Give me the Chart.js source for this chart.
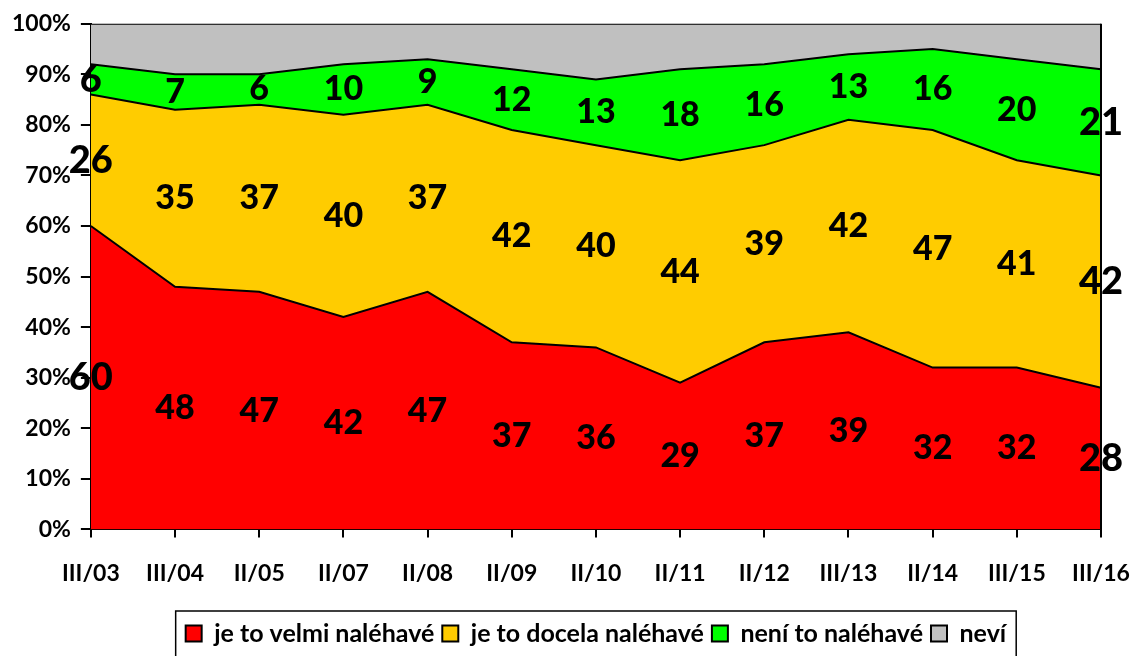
<!DOCTYPE html>
<html>
<head>
<meta charset="utf-8">
<script src="https://cdn.jsdelivr.net/npm/chart.js@4/dist/chart.umd.min.js"></script>
<style>
html,body{margin:0;padding:0;background:#fff;}
#wrap{width:1134px;height:656px;position:relative;}
</style>
</head>
<body>
<div id="wrap"><canvas id="c" width="1134" height="656"></canvas></div>
<script>
const categories = ["III/03","III/04","II/05","II/07","II/08","II/09","II/10","II/11","II/12","III/13","II/14","III/15","III/16"];
const velmi  = [60,48,47,42,47,37,36,29,37,39,32,32,28];
const docela = [26,35,37,40,37,42,40,44,39,42,47,41,42];
const neni   = [6,7,6,10,9,12,13,18,16,13,16,20,21];
const nevi   = [8,10,10,8,7,9,11,9,8,6,5,7,9];
const seriesNames = ["je to velmi naléhavé","je to docela naléhavé","není to naléhavé","neví"];
const yTicks = [0,10,20,30,40,50,60,70,80,90,100];

const FONT = "Lato, 'Liberation Sans', sans-serif";

const labelPlugin = {
  id: 'segLabels',
  afterDatasetsDraw(chart) {
    const ctx = chart.ctx;
    const xs = chart.scales.x, ys = chart.scales.y;
    const series = [velmi, docela, neni];
    ctx.save();
    ctx.fillStyle = '#000';
    ctx.textAlign = 'center';
    ctx.textBaseline = 'middle';
    for (let i = 0; i < categories.length; i++) {
      let cum = 0;
      for (let s = 0; s < series.length; s++) {
        const v = series[s][i];
        const edge = (i === 0 || i === categories.length - 1);
        ctx.font = '900 ' + (edge ? 38 : 34) + 'px ' + FONT;
        const x = xs.getPixelForValue(i);
        const y = ys.getPixelForValue(cum + v / 2);
        ctx.fillText(String(v), x, y);
        cum += v;
      }
    }
    ctx.restore();
  }
};

const framePlugin = {
  id: 'frame',
  afterLayout(chart) {
    const lg = chart.legend, a = chart.chartArea;
    if (lg) { lg.left = a.left; lg.right = a.right; }
  },
  afterDatasetsDraw(chart) {
    const a = chart.chartArea, ctx = chart.ctx;
    ctx.save();
    ctx.strokeStyle = '#000';
    ctx.lineWidth = 2;
    ctx.beginPath();
    ctx.moveTo(a.right, a.top);
    ctx.lineTo(a.right, a.bottom);
    ctx.stroke();
    ctx.restore();
  },
  afterDraw(chart) {
    const lg = chart.legend;
    if (!lg || !lg.legendHitBoxes || !lg.legendHitBoxes.length) return;
    const hb = lg.legendHitBoxes;
    let minX = Infinity, maxX = -Infinity, minY = Infinity, maxY = -Infinity;
    hb.forEach(b => { minX = Math.min(minX, b.left); maxX = Math.max(maxX, b.left + b.width); minY = Math.min(minY, b.top); maxY = Math.max(maxY, b.top + b.height); });
    const ctx = chart.ctx;
    ctx.save();
    ctx.strokeStyle = '#000';
    ctx.lineWidth = 1.5;
    ctx.strokeRect(minX - 10, minY - 10, (maxX - minX) + 20, (maxY - minY) + 40);
    ctx.restore();
  }
};

const mk = (label, data, color, fill) => ({
  label, data, backgroundColor: color, borderColor: '#000', borderWidth: 2,
  fill, pointRadius: 0, tension: 0
});

new Chart(document.getElementById('c'), {
  type: 'line',
  data: {
    labels: categories,
    datasets: [
      mk(seriesNames[0], velmi, '#ff0000', 'origin'),
      mk(seriesNames[1], docela, '#ffcc00', '-1'),
      mk(seriesNames[2], neni, '#00ff00', '-1'),
      mk(seriesNames[3], nevi, '#c0c0c0', '-1')
    ]
  },
  options: {
    responsive: false,
    animation: false,
    layout: { padding: { left: 2, right: 33, top: 14, bottom: 0 } },
    plugins: {
      tooltip: { enabled: false },
      legend: {
        position: 'bottom',
        labels: {
          font: { family: FONT, size: 25, weight: 'bold' },
          color: '#000',
          boxWidth: 16, boxHeight: 16,
          padding: 8
        }
      }
    },
    scales: {
      x: {
        offset: false,
        grid: { display: true, drawOnChartArea: false, drawTicks: true, tickLength: 8, color: '#000', lineWidth: 2 },
        border: { display: true, color: '#000', width: 2 },
        ticks: { font: { family: FONT, size: 23, weight: 'bold' }, color: '#000', padding: 22, maxRotation: 0, autoSkip: false },
        afterFit(axis) { axis.height += 4; axis.paddingLeft = 0; axis.paddingRight = 0; }
      },
      y: {
        stacked: true, min: 0, max: 100,
        afterBuildTicks(axis) { axis.ticks = yTicks.map(v => ({ value: v })); },
        grid: { display: true, drawOnChartArea: false, drawTicks: true, tickLength: 10, color: '#000', lineWidth: 2 },
        border: { display: true, color: '#000', width: 2 },
        ticks: { font: { family: FONT, size: 23, weight: 'bold' }, color: '#000', padding: 10, callback: v => v + '%' }
      }
    }
  },
  plugins: [labelPlugin, framePlugin]
});
</script>
</body>
</html>
